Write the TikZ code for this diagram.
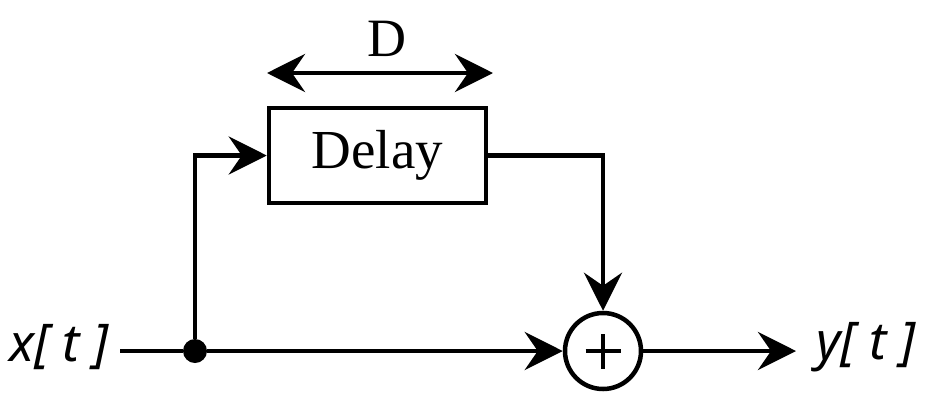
\documentclass[tikz,border=0pt]{standalone}
\usepackage{fontspec}
\setmainfont{Liberation Serif}
\newfontfamily\lblfont{Noto Sans}
\usetikzlibrary{arrows.meta}
\begin{document}
\begin{tikzpicture}[x=1pt,y=-1pt,
  wire/.style={line width=4.5pt},
  arr/.style={wire,-{Stealth[length=38pt,width=38pt,inset=13pt]}},
  darr/.style={wire,{Stealth[length=38pt,width=38pt,inset=13pt]}-{Stealth[length=38pt,width=38pt,inset=13pt]}},
  box/.style={draw,line width=4.5pt,minimum width=217pt,minimum height=95pt,inner sep=0pt,font=\fontsize{55}{62}\selectfont},
  sumnode/.style={draw,circle,line width=4.5pt,minimum size=76pt,inner sep=0pt,
    path picture={\draw[line width=4pt] ([xshift=-17.5pt]path picture bounding box.center) -- ([xshift=17.5pt]path picture bounding box.center);
                  \draw[line width=4pt] ([yshift=-17.5pt]path picture bounding box.center) -- ([yshift=17.5pt]path picture bounding box.center);}},
  dotnode/.style={circle,fill,minimum size=24pt,inner sep=0pt},
  lbl/.style={font=\lblfont\itshape\fontsize{52}{60}\selectfont,inner sep=0pt}
]
\useasboundingbox (0,0) rectangle (950,400);
\node[box] (delay) at (377.5,155.5) {Delay};
\node[font=\fontsize{54}{60}\selectfont,inner sep=0pt] (dlabel) at (387,39) {D};
\coordinate (dl) at (267,73);
\coordinate (dr) at (493,73);
\draw[darr] (dl) -- (dr);
\node[sumnode] (sum) at (603,351) {};
\node[dotnode] (split) at (195,351) {};
\coordinate (in) at (120,351);
\coordinate (out) at (796,351);
\node[lbl] (xl) at (59,347) {x[ t ]};
\node[lbl] (yl) at (866,347) {y[ t ]};
\draw[wire] (in) -- (split);
\draw[arr] (split) -- (sum.west);
\draw[arr] (split) |- (delay.west);
\draw[arr] (delay.east) -| (sum.north);
\draw[arr] (sum.east) -- (out);
\end{tikzpicture}
\end{document}
